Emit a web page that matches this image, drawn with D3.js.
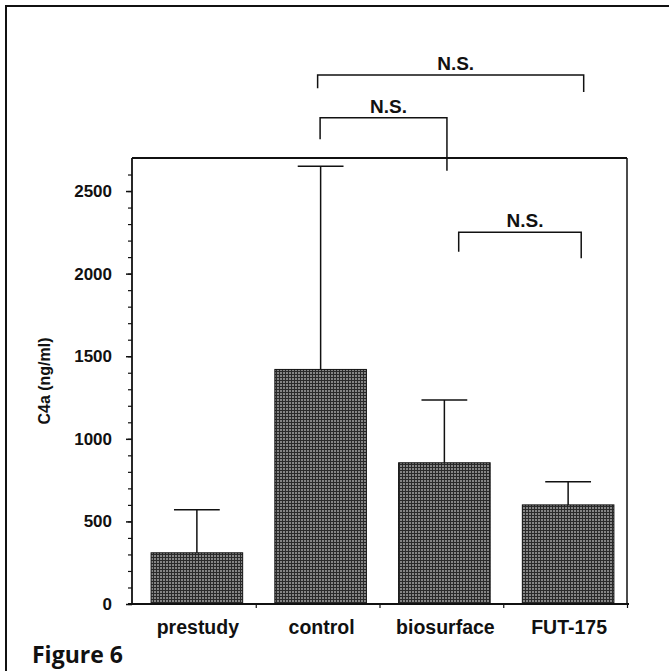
<!DOCTYPE html>
<html>
<head>
<meta charset="utf-8">
<script src="https://cdn.jsdelivr.net/npm/d3@7"></script>
<style>
  body { margin: 0; background: #fff; }
  text { font-family: "Liberation Sans", Arial, Helvetica, sans-serif; font-weight: bold; fill: #111; }
</style>
</head>
<body>
<div id="chart"></div>
<script>
// data
const groups = ['prestudy', 'control', 'biosurface', 'FUT-175'];
const means = [310, 1420, 855, 600];
const upperErr = [570, 2650, 1235, 740];
const yTicks = [0, 500, 1000, 1500, 2000, 2500];

// significance brackets: ends in band units (0 = centre of first group), levels in ng/ml
const bracketFrom = [1.0, 1.02, 2.14];
const bracketTo = [3.15, 2.045, 3.13];
const bracketLevel = [3202, 2944, 2250];
const bracketLegFrom = [3123, 2813, 2133];
const bracketLegTo = [3099, 2623, 2093];
const bracketText = ['N.S.', 'N.S.', 'N.S.'];

const W = 669, H = 671;
const margin = { top: 158, right: 42, bottom: 67, left: 132 };
const width = W - margin.left - margin.right;
const height = H - margin.top - margin.bottom;

const svg = d3.select('#chart')
    .append('svg')
    .attr('width', W)
    .attr('height', H);

// halftone-like fill for the bars
const pat = svg.append('defs')
    .append('pattern')
    .attr('id', 'dots')
    .attr('patternUnits', 'userSpaceOnUse')
    .attr('width', 3)
    .attr('height', 3);
pat.append('rect').attr('width', 3).attr('height', 3).attr('fill', '#858585');
pat.append('path').attr('d', 'M0,0.5H3M0.5,0V3').attr('stroke', '#2a2a2a').attr('stroke-width', 1);

// outer frame of the figure (only left and top show)
svg.append('rect')
    .attr('x', 6).attr('y', 6)
    .attr('width', W + 20).attr('height', H + 20)
    .attr('fill', 'none')
    .attr('stroke', '#111')
    .attr('stroke-width', 2);

const g = svg.append('g')
    .attr('transform', `translate(${margin.left},${margin.top})`);

const xScale = d3.scaleBand()
    .domain(groups)
    .range([0, width])
    .paddingInner(0.26)
    .paddingOuter(0.13);

const xIdx = d3.scaleLinear()
    .domain([-0.5, groups.length - 0.5])
    .range([0, width]);

const yScale = d3.scaleLinear()
    .domain([0, 2700])
    .range([height, 0]);

// bars
g.selectAll('.bar')
    .data(groups)
    .enter()
    .append('rect')
    .attr('class', 'bar')
    .attr('x', d => xScale(d) + 3)
    .attr('y', (d, i) => yScale(means[i]))
    .attr('width', xScale.bandwidth())
    .attr('height', (d, i) => height - yScale(means[i]))
    .attr('fill', 'url(#dots)')
    .attr('stroke', '#111')
    .attr('stroke-width', 1);

// error bars (upper only)
const capW = xScale.bandwidth() / 2;
const err = g.selectAll('.err')
    .data(groups)
    .enter()
    .append('g')
    .attr('class', 'err')
    .attr('transform', d => `translate(${xScale(d) + 3 + xScale.bandwidth() / 2},0)`);
err.append('line')
    .attr('x1', 0).attr('x2', 0)
    .attr('y1', (d, i) => yScale(means[i]))
    .attr('y2', (d, i) => yScale(upperErr[i]))
    .attr('stroke', '#111').attr('stroke-width', 1.5);
err.append('line')
    .attr('x1', -capW / 2).attr('x2', capW / 2)
    .attr('y1', (d, i) => yScale(upperErr[i]))
    .attr('y2', (d, i) => yScale(upperErr[i]))
    .attr('stroke', '#111').attr('stroke-width', 1.5);

// y axis: minor ticks every 100, labels every 500
const yAxis = g.append('g')
    .call(d3.axisLeft(yScale).tickValues(d3.range(0, 2700, 100)).tickSize(4).tickFormat(''));
yAxis.select('.domain').remove();
yAxis.selectAll('.tick line').attr('stroke', '#111').attr('stroke-width', 1.2);

const yMajor = g.append('g')
    .call(d3.axisLeft(yScale).tickValues(yTicks).tickSize(6).tickPadding(14).tickFormat(d3.format('d')));
yMajor.select('.domain').remove();
yMajor.selectAll('.tick line').attr('stroke', '#111').attr('stroke-width', 1.5);
yMajor.selectAll('.tick text')
    .style('font-size', '17px')
    .style('font-family', '"Liberation Sans", Arial, sans-serif')
    .style('font-weight', 'bold')
    .attr('fill', '#111');

// x axis: ticks at the group boundaries
const xAxis = g.append('g')
    .attr('transform', `translate(0,${height})`)
    .call(d3.axisBottom(xIdx).tickValues(d3.range(0.5, groups.length, 1)).tickSize(4).tickFormat(''));
xAxis.select('.domain').remove();
xAxis.selectAll('.tick line').attr('stroke', '#111').attr('stroke-width', 1.2);

g.selectAll('.xlabel')
    .data(groups)
    .enter()
    .append('text')
    .attr('class', 'xlabel')
    .attr('x', d => xScale(d) + xScale.bandwidth() / 2 + 4)
    .attr('y', height + 30)
    .attr('text-anchor', 'middle')
    .style('font-size', '19.5px')
    .text(d => d);

// plot frame
g.append('line').attr('x1', -4).attr('x2', width + 2).attr('y1', height).attr('y2', height)
    .attr('stroke', '#111').attr('stroke-width', 1.8);
g.append('line').attr('x1', 0).attr('x2', 0).attr('y1', 0).attr('y2', height)
    .attr('stroke', '#111').attr('stroke-width', 1.8);
g.append('line').attr('x1', 0).attr('x2', width).attr('y1', 0).attr('y2', 0)
    .attr('stroke', '#111').attr('stroke-width', 1.8);
g.append('line').attr('x1', width).attr('x2', width).attr('y1', 0).attr('y2', height)
    .attr('stroke', '#111').attr('stroke-width', 1.5);

// y title
g.append('text')
    .attr('transform', `translate(${-82},${height / 2}) rotate(-90)`)
    .attr('text-anchor', 'middle')
    .style('font-size', '16px')
    .text('C4a (ng/ml)');

// N.S. brackets
bracketText.forEach((t, i) => {
    const x0 = xIdx(bracketFrom[i]);
    const x1 = xIdx(bracketTo[i]);
    const y = yScale(bracketLevel[i]);
    g.append('path')
        .attr('d', `M${x0},${yScale(bracketLegFrom[i])}V${y}H${x1}V${yScale(bracketLegTo[i])}`)
        .attr('fill', 'none')
        .attr('stroke', '#111')
        .attr('stroke-width', 1.5);
    g.append('text')
        .attr('x', (x0 + x1) / 2 + 5)
        .attr('y', y - 5)
        .attr('text-anchor', 'middle')
        .style('font-size', '19px')
        .text(t);
});

// figure caption
svg.append('text')
    .attr('x', 32)
    .attr('y', 663)
    .style('font-family', '"Open Sans", Lato, sans-serif')
    .style('font-size', '23px')
    .style('font-weight', 'bold')
    .text('Figure 6');
</script>
</body>
</html>
